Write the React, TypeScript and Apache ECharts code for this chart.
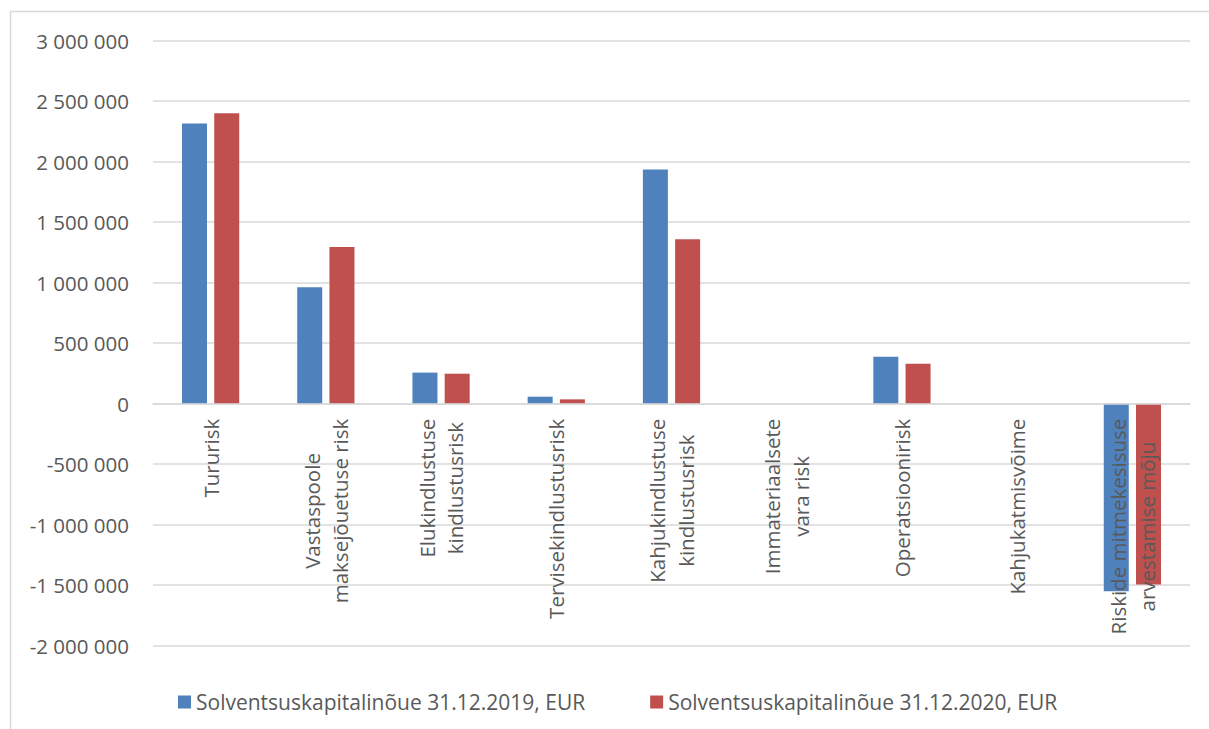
import React, { useEffect, useRef } from "react";
import * as echarts from "echarts";

const categories: string[] = [
  "Tururisk",
  "Vastaspoole\nmaksejõuetuse risk",
  "Elukindlustuse\nkindlustusrisk",
  "Tervisekindlustusrisk",
  "Kahjukindlustuse\nkindlustusrisk",
  "Immateriaalsete\nvara risk",
  "Operatsioonirisk",
  "Kahjukatmisvõime",
  "Riskide mitmekesisuse\narvestamise mõju",
];

const seriesNames: string[] = [
  "Solventsuskapitalinõue 31.12.2019, EUR",
  "Solventsuskapitalinõue 31.12.2020, EUR",
];

const values2019: number[] = [
  2315000, 962000, 257000, 58000, 1935000, 0, 387000, 0, -1550000,
];

const values2020: number[] = [
  2400000, 1295000, 248000, 36000, 1360000, 0, 330000, 0, -1495000,
];

const Y_MIN = -2000000;
const Y_MAX = 3000000;
const Y_STEP = 500000;

const FONT = "'Open Sans', 'Noto Sans', sans-serif";
const TEXT = "#595959";
const GRID = "#d9d9d9";
const COLORS = ["#4f81bd", "#c0504d"];

const W = 1209;
const H = 729;
const GRID_TOP = 40.7;
const GRID_BOTTOM = 83.3;

const fmt = (v: number) =>
  String(v).replace(/\B(?=(\d{3})+(?!\d))/g, " ");

export default function App() {
  const ref = useRef<HTMLDivElement>(null);

  useEffect(() => {
    document.body.style.margin = "0";
    if (!ref.current) return;
    const chart = echarts.init(ref.current, null, { renderer: "svg" });

    // lift the category axis from the plot bottom up to the value 0
    const plotH = H - GRID_TOP - GRID_BOTTOM;
    const zeroOffset = -((0 - Y_MIN) / (Y_MAX - Y_MIN)) * plotH;

    chart.setOption({
      animation: false,
      color: COLORS,
      textStyle: { fontFamily: FONT },
      graphic: [
        {
          type: "rect",
          shape: { x: 10.5, y: 11.5, width: 1400, height: 900 },
          style: { fill: "none", stroke: GRID, lineWidth: 1.5 },
          silent: true,
        },
      ],
      grid: {
        left: 153,
        right: 19,
        top: GRID_TOP,
        bottom: GRID_BOTTOM,
        containLabel: false,
        outerBoundsMode: "none",
      },
      legend: {
        left: 173,
        top: 686.5,
        itemWidth: 13,
        itemHeight: 13,
        itemGap: 65,
        icon: "rect",
        textStyle: { color: TEXT, fontSize: 21, fontFamily: FONT },
        data: seriesNames,
      },
      xAxis: {
        type: "category",
        data: categories,
        z: 10,
        position: "bottom",
        offset: zeroOffset,
        axisLine: { show: true, onZero: false, lineStyle: { color: GRID, width: 1.5 } },
        axisTick: { show: false },
        axisLabel: {
          interval: 0,
          rotate: 90,
          margin: 15,
          color: TEXT,
          fontSize: 20.5,
          fontFamily: FONT,
          formatter: (v: string) =>
            v
              .split("\n")
              .map((l) => `{c|${l}}`)
              .join("\n"),
          rich: {
            c: {
              align: "center",
              fontSize: 20.5,
              lineHeight: 28.5,
              color: TEXT,
              fontFamily: FONT,
            },
          },
        },
      },
      yAxis: {
        type: "value",
        min: Y_MIN,
        max: Y_MAX,
        interval: Y_STEP,
        axisLine: { show: false },
        axisTick: { show: false },
        splitLine: { lineStyle: { color: GRID, width: 1.5 } },
        axisLabel: {
          margin: 24,
          color: TEXT,
          fontSize: 20.5,
          fontFamily: FONT,
          formatter: (v: number) => fmt(v),
        },
      },
      series: [
        {
          name: seriesNames[0],
          type: "bar",
          data: values2019,
          barWidth: 25,
          barGap: "29%",
          itemStyle: { color: COLORS[0] },
        },
        {
          name: seriesNames[1],
          type: "bar",
          data: values2020,
          barWidth: 25,
          barGap: "29%",
          itemStyle: { color: COLORS[1] },
        },
      ],
    });
    return () => chart.dispose();
  }, []);

  return (
    <div
      ref={ref}
      style={{ width: W, height: H, overflow: "hidden", background: "#fff" }}
    />
  );
}
